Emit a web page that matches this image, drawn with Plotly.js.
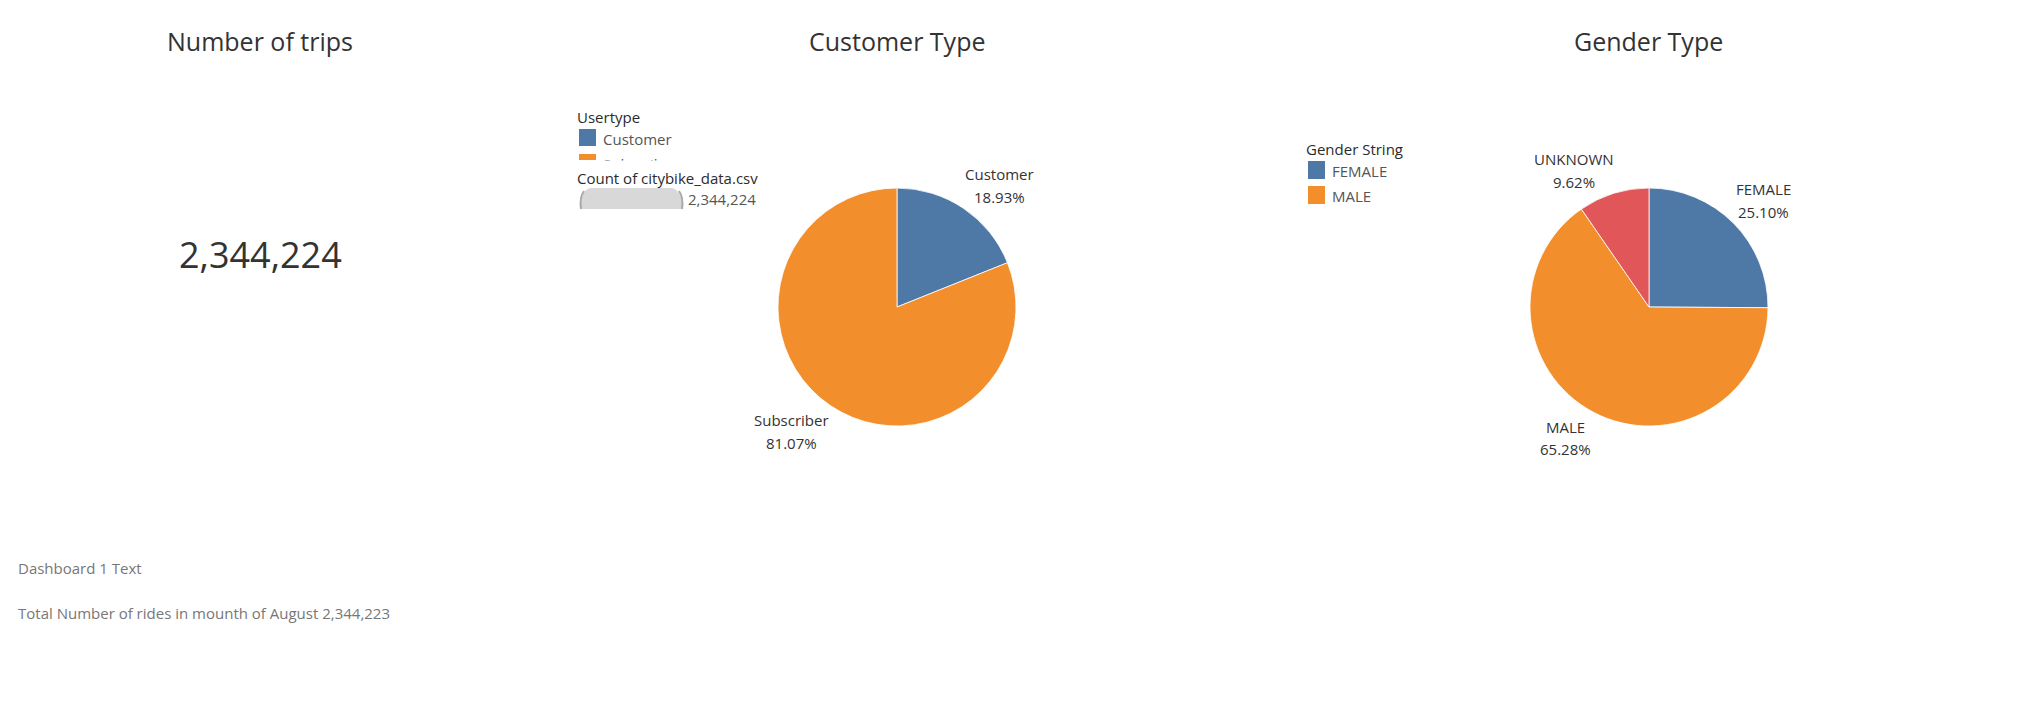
<!DOCTYPE html>
<html>
<head>
<meta charset="utf-8">
<script src="https://cdn.plot.ly/plotly-3.0.1.min.js"></script>
<style>
html,body{margin:0;padding:0;background:#fff;}
#chart{width:2024px;height:721px;}
</style>
</head>
<body>
<div id="chart"></div>
<script>
// ---- data ----
const totalTrips = 2344224;
const totalTextValue = 2344223;
const userTypes = ['Customer', 'Subscriber'];
const userPct = [18.93, 81.07];
const userColors = ['#4e79a7', '#f28e2b'];
const genders = ['FEMALE', 'MALE', 'UNKNOWN'];
const genderPct = [25.10, 65.28, 9.62];
const genderColors = ['#4e79a7', '#f28e2b', '#e15759'];
const legendGenders = ['FEMALE', 'MALE'];

// ---- helpers ----
const W = 2024, H = 721;
const px = x => x / W;
const py = y => 1 - y / H;
const FONT = '"Open Sans", "Noto Sans", sans-serif';
const fmt = n => n.toLocaleString('en-US');

function ann(text, x, y, size, color, opts) {
  return Object.assign({
    text: text, x: px(x), y: py(y), xref: 'paper', yref: 'paper',
    xanchor: 'center', yanchor: 'middle', showarrow: false,
    font: {family: FONT, size: size, color: color}
  }, opts || {});
}
function rect(x0, y0, x1, y1, color) {
  return {type: 'rect', xref: 'paper', yref: 'paper',
    x0: px(x0), x1: px(x1), y0: py(y0), y1: py(y1),
    fillcolor: color, line: {width: 0}};
}
function path(pts, fill, line) {
  let d = pts.map(p => {
    const c = p[0]; const nums = [];
    for (let i = 1; i < p.length; i += 2) nums.push(px(p[i]) + ',' + py(p[i + 1]));
    return c + nums.join(' ');
  }).join(' ');
  return {type: 'path', xref: 'paper', yref: 'paper', path: d,
    fillcolor: fill, line: line};
}

// pie geometry (pixels)
const R = 119;
const pie1 = {cx: 897, cy: 307};
const pie2 = {cx: 1649, cy: 307};
const dom = p => ({x: [px(p.cx - R), px(p.cx + R)], y: [py(p.cy + R), py(p.cy - R)]});

const traces = [
  {type: 'pie', labels: userTypes, values: userPct, sort: false,
   direction: 'clockwise', rotation: 0, domain: dom(pie1),
   marker: {colors: userColors, line: {color: '#ffffff', width: 0.8}},
   textinfo: 'none', hoverinfo: 'label+percent', showlegend: false},
  {type: 'pie', labels: genders, values: genderPct, sort: false,
   direction: 'clockwise', rotation: 0, domain: dom(pie2),
   marker: {colors: genderColors, line: {color: '#ffffff', width: 0.8}},
   textinfo: 'none', hoverinfo: 'label+percent', showlegend: false}
];

const pct = v => v.toFixed(2) + '%';
const userLabelPos = [[999, 174], [791, 420]];
const genderLabelPos = [[1763, 189], [1565, 427], [1574, 159]];
const LT = '#2b2b2b';

const annotations = [
  ann('Number of trips', 260, 41, 25, '#333333'),
  ann('Customer Type', 897, 41, 25, '#333333'),
  ann('Gender Type', 1648, 41, 25, '#333333'),
  ann(fmt(totalTrips), 260, 254, 36, '#333333'),
  // usertype legend
  ann('Usertype', 575, 117, 15, LT, {xanchor: 'left'}),
  ann(userTypes[0], 601, 139, 15, '#555555', {xanchor: 'left'}),
  ann(userTypes[1], 601, 164, 15, '#555555', {xanchor: 'left'}),
  // mask clipping the legend
  {text: ' ', x: px(570), y: py(160), xref: 'paper', yref: 'paper', xanchor: 'left', yanchor: 'top',
   showarrow: false, width: 150, height: 9, bgcolor: '#ffffff', borderpad: 0, font: {size: 2}},
  ann('Count of citybike_data.csv', 575, 178, 15, LT, {xanchor: 'left'}),
  ann(fmt(totalTrips), 686, 199, 15, '#555555', {xanchor: 'left'}),
  // gender legend
  ann('Gender String', 1304, 149, 15, LT, {xanchor: 'left'}),
  ann(legendGenders[0], 1330, 171, 15, '#555555', {xanchor: 'left'}),
  ann(legendGenders[1], 1330, 196, 15, '#555555', {xanchor: 'left'}),
  // bottom text
  ann('Dashboard 1 Text', 16, 568, 15, '#777777', {xanchor: 'left'}),
  ann('Total Number of rides in mounth of August ' + fmt(totalTextValue), 16, 613, 15, '#777777', {xanchor: 'left'})
];
userTypes.forEach((t, i) => {
  annotations.push(ann(t, userLabelPos[i][0], userLabelPos[i][1], 15, '#333333'));
  annotations.push(ann(pct(userPct[i]), userLabelPos[i][0], userLabelPos[i][1] + 23, 15, '#333333'));
});
genders.forEach((t, i) => {
  annotations.push(ann(t, genderLabelPos[i][0], genderLabelPos[i][1], 15, '#333333'));
  annotations.push(ann(pct(genderPct[i]), genderLabelPos[i][0], genderLabelPos[i][1] + 22.5, 15, '#333333'));
});

const shapes = [
  rect(579, 129, 596, 146, userColors[0]),
  rect(579, 154, 596, 160, userColors[1]),
  rect(1308, 161, 1325, 179, genderColors[0]),
  rect(1308, 186, 1325, 204, genderColors[1]),
  // capsule (clipped)
  path([['M', 592, 188], ['L', 670, 188], ['C', 678, 188, 683, 196, 683, 209], ['L', 580, 209],
        ['C', 580, 196, 584, 188, 592, 188], ['Z']], '#d8d8d8', {width: 0}),
  path([['M', 584, 191], ['C', 581, 195, 580, 202, 581, 209]], 'rgba(0,0,0,0)', {color: '#aaaaaa', width: 2}),
  path([['M', 679, 191], ['C', 682, 195, 683, 202, 682, 209]], 'rgba(0,0,0,0)', {color: '#aaaaaa', width: 2})
];

const layout = {
  width: W, height: H,
  margin: {l: 0, r: 0, t: 0, b: 0},
  paper_bgcolor: '#ffffff', plot_bgcolor: '#ffffff',
  showlegend: false,
  font: {family: FONT},
  annotations: annotations,
  shapes: shapes
};

Plotly.newPlot('chart', traces, layout, {displayModeBar: false});
</script>
</body>
</html>
